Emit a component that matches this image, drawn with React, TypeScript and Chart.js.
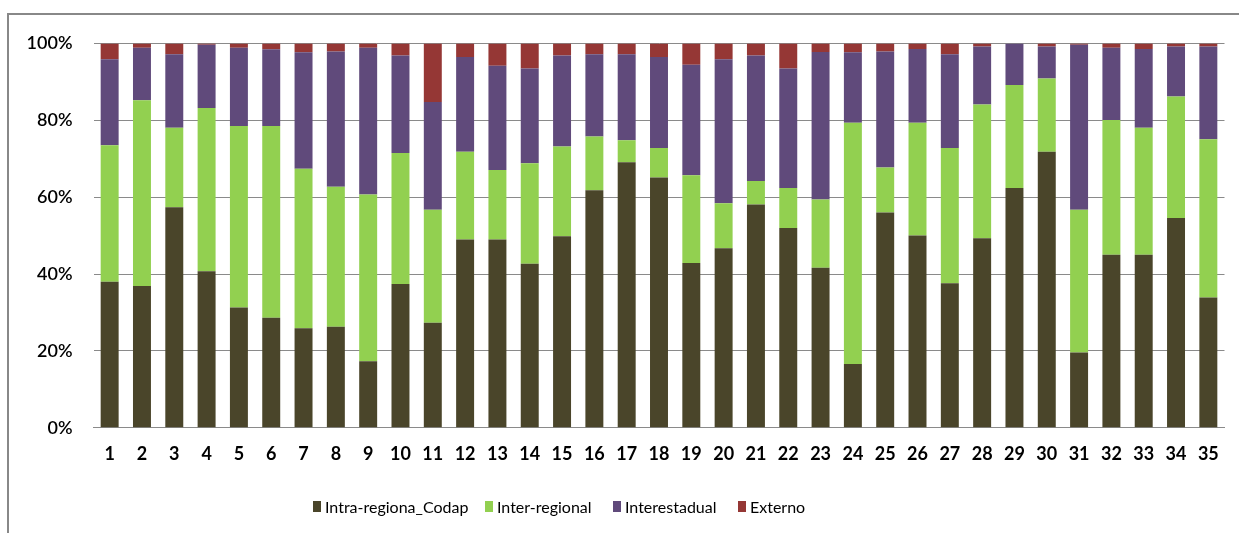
import React, { useEffect, useRef } from "react";
import { Chart, registerables } from "chart.js";

Chart.register(...registerables);

// Categories (zones 1..35)
const categories: string[] = Array.from({ length: 35 }, (_, i) => String(i + 1));

// Share of trips per zone (%), stacked to 100%
const intraRegional: number[] = [
  38.0, 36.9, 57.4, 40.7, 31.3, 28.6, 25.9, 26.3, 17.3, 37.4,
  27.3, 49.0, 49.0, 42.7, 49.8, 61.8, 69.1, 65.1, 42.9, 46.7,
  58.1, 52.0, 41.6, 16.6, 56.0, 50.0, 37.6, 49.3, 62.4, 71.8,
  19.6, 45.0, 45.0, 54.6, 33.9,
];
const interRegional: number[] = [
  35.5, 48.3, 20.7, 42.5, 47.2, 49.9, 41.5, 36.4, 43.4, 34.1,
  29.4, 22.8, 18.1, 26.1, 23.4, 14.0, 5.7, 7.7, 22.8, 11.7,
  6.1, 10.4, 17.8, 62.8, 11.7, 29.4, 35.2, 34.8, 26.8, 19.1,
  37.1, 35.1, 33.1, 31.6, 41.2,
];
const interestadual: number[] = [
  22.4, 13.7, 19.1, 16.5, 20.4, 20.0, 30.3, 35.2, 38.2, 25.4,
  28.1, 24.7, 27.1, 24.7, 23.7, 21.4, 22.4, 23.7, 28.8, 37.5,
  32.7, 31.1, 38.4, 18.3, 30.2, 19.2, 24.4, 15.1, 10.8, 8.3,
  43.0, 18.8, 20.5, 13.0, 24.1,
];
const externo: number[] = [
  4.1, 1.1, 2.8, 0.3, 1.1, 1.5, 2.3, 2.1, 1.1, 3.1,
  15.2, 3.5, 5.8, 6.5, 3.1, 2.8, 2.8, 3.5, 5.5, 4.1,
  3.1, 6.5, 2.2, 2.3, 2.1, 1.4, 2.8, 0.8, 0.0, 0.8,
  0.3, 1.1, 1.4, 0.8, 0.8,
];

const yTicks: number[] = [0, 20, 40, 60, 80, 100];

const seriesNames: string[] = ["Intra-regiona_Codap", "Inter-regional", "Interestadual", "Externo"];
const seriesColors: string[] = ["#4A452A", "#92D050", "#604A7B", "#953735"];
const seriesValues: number[][] = [intraRegional, interRegional, interestadual, externo];

const W = 1239;
const H = 533;
const legendLeft: number[] = [313, 485, 613, 738];

export default function App() {
  const canvasRef = useRef<HTMLCanvasElement | null>(null);

  useEffect(() => {
    const canvas = canvasRef.current;
    if (!canvas) return;
    const chart = new Chart(canvas, {
      type: "bar",
      data: {
        labels: categories,
        datasets: seriesNames.map((name, i) => ({
          label: name,
          data: seriesValues[i],
          backgroundColor: seriesColors[i],
          borderWidth: 0,
          barPercentage: 0.556,
          categoryPercentage: 1,
        })),
      },
      options: {
        responsive: false,
        animation: false,
        maintainAspectRatio: false,
        layout: { padding: { left: 0, top: 43.5, right: 14.5, bottom: H - 427.7 - 40 } },
        plugins: {
          legend: { display: false },
          tooltip: { enabled: false },
        },
        scales: {
          x: {
            stacked: true,
            grid: { display: false, drawTicks: false },
            border: { display: true, color: "#8a8a8a", width: 1 },
            ticks: {
              padding: 16,
              color: "#000",
              font: { family: "Lato", size: 18, weight: "bold" },
              maxRotation: 0,
              autoSkip: false,
            },
            afterFit: (s: any) => {
              s.height = 40;
            },
          },
          y: {
            stacked: true,
            min: 0,
            max: 100,
            afterBuildTicks: (s: any) => {
              s.ticks = yTicks.map((v) => ({ value: v }));
            },
            grid: { color: "#8a8a8a", lineWidth: 1, drawTicks: false },
            border: { display: false },
            ticks: {
              padding: 21,
              color: "#000",
              font: { family: "Lato", size: 18, weight: "600" },
              callback: (v: any) => `${v}%`,
            },
            afterFit: (s: any) => {
              s.width = 93.5;
            },
          },
        },
      },
    });
    return () => chart.destroy();
  }, []);

  return (
    <div style={{ position: "fixed", left: 0, top: 0, width: W, height: H, background: "#fff", overflow: "hidden" }}>
      <div
        style={{
          position: "absolute",
          left: 7,
          top: 13,
          width: W,
          height: H,
          borderLeft: "2px solid #888",
          borderTop: "2px solid #888",
        }}
      />
      <canvas ref={canvasRef} width={W} height={H} style={{ position: "absolute", left: 0, top: 0 }} />
      {seriesNames.map((name, i) => (
        <div
          key={name}
          style={{
            position: "absolute",
            left: legendLeft[i],
            top: 494,
            height: 24,
            display: "flex",
            alignItems: "center",
            whiteSpace: "nowrap",
            fontFamily: "Lato, sans-serif",
            fontSize: 16,
            color: "#000",
          }}
        >
          <span style={{ display: "inline-block", width: 8, height: 11, background: seriesColors[i], marginRight: 4 }} />
          <span>{name}</span>
        </div>
      ))}
    </div>
  );
}
